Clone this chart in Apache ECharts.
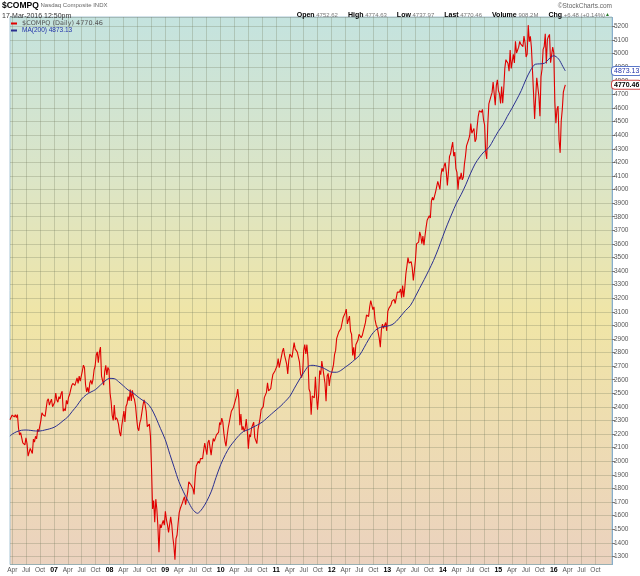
<!DOCTYPE html>
<html><head><meta charset="utf-8">
<script src="https://cdn.jsdelivr.net/npm/echarts@6/dist/echarts.min.js"></script>
<style>html,body{margin:0;padding:0;background:#fff}#c{width:640px;height:576px}</style>
</head><body><div id="c"></div>
<script>
// Weekly closes (Friday), from 17-Mar-2006
const w2006 = [2306,2313,2340,2339,2326,2342,2322,2343,2243,2193,2210,2219,2135,2129,2121,2172,2130,2037,2039,2094,2086,2057,2163,2141,2184,2165,2235,2218,2258,2300,2357,2342,2350,2330,2389,2445,2460,2413,2437,2457,2401,2415];
const w2007 = [2434,2502,2451,2435,2475,2459,2497,2515,2368,2387,2372,2448,2421,2471,2491,2526,2557,2573,2562,2559,2557,2613,2573,2627,2589,2603,2666,2707,2688,2563,2511,2544,2505,2576,2596,2566,2602,2672,2701,2780,2805,2725,2804,2840,2627,2637,2560,2660,2706,2635,2691,2674];
const w2008 = [2504,2440,2340,2300,2413,2305,2321,2303,2271,2212,2185,2258,2261,2370,2290,2403,2423,2476,2445,2528,2444,2522,2474,2454,2406,2316,2245,2225,2282,2310,2310,2414,2452,2414,2367,2255,2261,2273,2183,1947,1649,1711,1552,1721,1647,1516,1330,1536,1509,1540,1564,1530];
const w2009 = [1632,1571,1530,1477,1476,1591,1534,1441,1378,1275,1431,1457,1545,1622,1652,1673,1694,1719,1739,1680,1692,1774,1849,1858,1827,1838,1797,1756,1886,1965,1979,2000,1985,2020,2028,2019,2080,2133,2090,2048,2139,2156,2155,2045,2112,2167,2146,2138,2194,2190,2212,2285];
const w2010 = [2269,2317,2288,2205,2147,2110,2184,2243,2238,2327,2368,2375,2396,2403,2455,2481,2531,2461,2265,2347,2230,2257,2219,2243,2310,2224,2092,2197,2179,2245,2255,2288,2174,2179,2130,2233,2242,2316,2381,2370,2402,2468,2479,2507,2578,2518,2518,2534,2592,2638,2642,2665,2653];
const w2011 = [2703,2755,2689,2686,2769,2809,2833,2781,2784,2715,2643,2743,2789,2780,2764,2820,2873,2827,2828,2803,2796,2732,2643,2616,2652,2816,2859,2789,2858,2756,2532,2508,2342,2480,2480,2467,2622,2483,2380,2479,2667,2637,2738,2686,2678,2572,2441,2627,2647,2555,2618,2605];
const w2012 = [2674,2711,2787,2816,2905,2904,2952,2963,2977,2988,3056,3068,3092,3120,3011,3000,3069,2957,2934,2778,2838,2747,2858,2872,2892,2935,2937,2909,2925,2958,2968,3020,3076,3069,3066,3136,3183,3180,3116,3136,3044,3005,2987,2982,2904,2840,2967,3010,2978,2971,3021,2960];
const w2013 = [3101,3125,3135,3150,3179,3193,3192,3161,3170,3245,3249,3245,3268,3204,3294,3207,3279,3378,3437,3499,3459,3456,3469,3423,3330,3403,3479,3600,3587,3613,3689,3660,3602,3657,3590,3660,3722,3774,3781,3807,3791,3914,3943,3922,3919,3985,3991,4060,4062,4001,4104,4157];
const w2014 = [4132,4175,4197,4128,4030,4126,4244,4263,4308,4350,4246,4276,4155,4127,3999,4095,4076,4123,4071,4090,4185,4243,4321,4310,4368,4398,4486,4415,4432,4449,4352,4371,4465,4539,4580,4583,4568,4590,4512,4475,4276,4225,4483,4631,4633,4688,4713,4792,4781,4620,4765,4807];
const w2015 = [4727,4704,4634,4758,4635,4744,4893,4956,4964,4927,4871,5026,4892,4886,4996,4932,5092,5005,5003,5048,5090,5070,5068,5052,5130,5080,4976,4997,5210,5088,5128,5044,5048,4706,4520,4683,4822,4827,4687,4540,4830,4887,5032,5053,5147,4927,5105,5127,5142,4934,4923,5048];
const w2016 = [5007,4644,4488,4591,4614,4363,4270,4504,4590,4717,4748,4770.46];
// MA(200) read at the start of each month, Apr 2006 .. Mar 2016
const maMonthly = [
  2200,2218,2228,2230,2227,2223,2223,2230,2238,
  2250,2272,2298,2326,2368,2410,2458,2490,2510,2528,2560,2590,
  2610,2608,2585,2555,2525,2505,2478,2452,2430,2390,2320,2240,
  2160,2050,1955,1850,1775,1705,1645,1617,1650,1705,1780,1880,
  1975,2050,2105,2150,2190,2220,2232,2250,2268,2288,2318,2348,
  2378,2408,2440,2478,2538,2598,2652,2700,2706,2700,2690,2672,
  2656,2655,2668,2694,2718,2748,2778,2836,2898,2948,2978,2990,
  2995,3005,3030,3070,3110,3145,3205,3272,3338,3405,3478,3560,
  3655,3745,3820,3900,3962,4035,4115,4188,4240,4280,4310,4368,
  4428,4478,4538,4598,4660,4728,4808,4878,4922,4925,4930,4962,
  4985,4962,4905];
const maStart = 2185;
const maEnd = 4873.13;
const lastClose = 4770.46;
const monthNames = ['Jan','Feb','Mar','Apr','May','Jun','Jul','Aug','Sep','Oct','Nov','Dec'];

const xMin = new Date(2006,2,17).getTime();
const xMax = new Date(2017,0,18).getTime();
const weekly = [].concat(w2006,w2007,w2008,w2009,w2010,w2011,w2012,w2013,w2014,w2015,w2016);
const priceData = weekly.map((v,i)=>[new Date(2006,2,17+7*i).getTime(), v]);
priceData[priceData.length-1][0] = new Date(2016,2,17).getTime();
const maData = [[xMin, maStart]];
maMonthly.forEach((v,i)=>maData.push([new Date(2006,3+i,1).getTime(), v]));
maData.push([new Date(2016,2,17).getTime(), maEnd]);
const quarterTicks = [];
for (let y=2006;y<=2016;y++) for (let m=0;m<12;m+=3){const t=new Date(y,m,1).getTime(); if(t>xMin&&t<xMax) quarterTicks.push(t);}

const FF = 'Liberation Sans, Arial, sans-serif';
const chart = echarts.init(document.getElementById('c'), null, {renderer:'canvas'});
const gridColor = 'rgba(110,120,90,0.28)';
chart.setOption({
  animation:false,
  backgroundColor:'#fff',
  title:[
    {text:'{a|$COMPQ} {b|Nasdaq Composite INDX}', left:2, top:1, padding:0,
     textStyle:{fontSize:6,fontWeight:'normal',rich:{a:{fontSize:8.5,lineHeight:9,fontWeight:'bold',color:'#000',fontFamily:FF},b:{fontSize:6,lineHeight:9,fontWeight:'normal',color:'#666',fontFamily:FF}}}},
    {text:'17-Mar-2016 12:50pm', left:2, top:12, padding:0, textStyle:{fontSize:7,lineHeight:8,fontWeight:'normal',color:'#333',fontFamily:FF}},
    {text:'©StockCharts.com', right:28, top:3, padding:0, textStyle:{fontSize:6.5,lineHeight:7,fontWeight:'normal',color:'#666',fontFamily:FF}},
    {text:'{b|Open} {v|4752.62}      {b|High} {v|4774.63}      {b|Low} {v|4737.97}      {b|Last} {v|4770.46}      {b|Volume} {v|908.2M}      {b|Chg} {v|+6.48 (+0.14%)}{g|▲}',
     right:30, top:11, padding:0,
     textStyle:{fontSize:6,fontWeight:'normal',rich:{b:{fontSize:7,lineHeight:8,fontWeight:'bold',color:'#000',fontFamily:FF},v:{fontSize:6,lineHeight:8,fontWeight:'normal',color:'#777',fontFamily:FF},g:{fontSize:5,lineHeight:8,color:'#2a7a2a',fontFamily:FF}}}}
  ],
  legend:{
    orient:'vertical', left:11, top:20, padding:0, itemGap:0, itemWidth:6, itemHeight:2, icon:'rect',
    data:[{name:'$COMPQ',textStyle:{color:'#555',fontFamily:'DejaVu Sans, sans-serif',fontSize:6.5}},
          {name:'MA(200)',textStyle:{color:'#2233aa',fontFamily:FF,fontSize:6.5}}],
    textStyle:{fontSize:6.5,lineHeight:7},
    formatter:function(n){return n==='$COMPQ' ? '$COMPQ (Daily) 4770.46' : 'MA(200) 4873.13';}
  },
  grid:{left:10,right:28,top:17,bottom:11.5,show:true,borderColor:'#a9c6d6',borderWidth:1,
    backgroundColor:new echarts.graphic.LinearGradient(0,0,0,1,[
      {offset:0,color:'#c4e3df'},{offset:0.3,color:'#dce5c6'},{offset:0.55,color:'#f0e5a6'},{offset:1,color:'#ebd2bf'}])},
  xAxis:{type:'value',min:xMin,max:xMax,
    axisLine:{show:false},
    axisTick:{show:false,customValues:quarterTicks},
    splitLine:{show:true,lineStyle:{color:gridColor,width:1}},
    axisLabel:{customValues:quarterTicks,margin:2,fontSize:6.5,color:'#555',fontFamily:FF,hideOverlap:false,
      formatter:function(v){const d=new Date(v);const m=d.getMonth(); if(m===0) return '{y|'+String(d.getFullYear()).slice(2)+'}'; return monthNames[m];},
      rich:{y:{fontSize:7,fontWeight:'bold',color:'#000',fontFamily:FF}}}
  },
  yAxis:{type:'value',position:'right',min:1240,max:5270,splitNumber:40,minInterval:100,maxInterval:100,
    axisLine:{show:true,lineStyle:{color:'#7fa8c8',type:'dotted',width:1}},
    axisTick:{show:true,length:3,lineStyle:{color:'#777'}},
    splitLine:{show:true,lineStyle:{color:gridColor,width:1}},
    axisLabel:{margin:2,fontSize:6.5,color:'#555',fontFamily:FF,showMinLabel:false,showMaxLabel:false,
      formatter:function(v){return String(v);}}
  },
  series:[
    {name:'$COMPQ',type:'line',data:priceData,showSymbol:false,symbol:'none',color:'#e00000',
     lineStyle:{width:1.1,color:'#e00000'},
     markPoint:{symbol:'rect',symbolSize:0,silent:true,
       data:[{coord:[xMax,lastClose]}],
       label:{show:true,position:'right',distance:0,formatter:'4770.46',fontSize:7,fontWeight:'bold',color:'#000',fontFamily:FF,
         backgroundColor:'#fff',borderColor:'#d04848',borderWidth:1,borderRadius:3,padding:[1,2,0,2]}}},
    {name:'MA(200)',type:'line',data:maData,smooth:0.3,showSymbol:false,symbol:'none',color:'#2a2f90',
     lineStyle:{width:1,color:'#2a2f90'},
     markPoint:{symbol:'rect',symbolSize:0,silent:true,
       data:[{coord:[xMax,maEnd]}],
       label:{show:true,position:'right',distance:0,formatter:'4873.13',fontSize:7,color:'#2233aa',fontFamily:FF,
         backgroundColor:'#fff',borderColor:'#5a78c8',borderWidth:1,borderRadius:3,padding:[1,2,0,2]}}}
  ]
});
</script></body></html>
